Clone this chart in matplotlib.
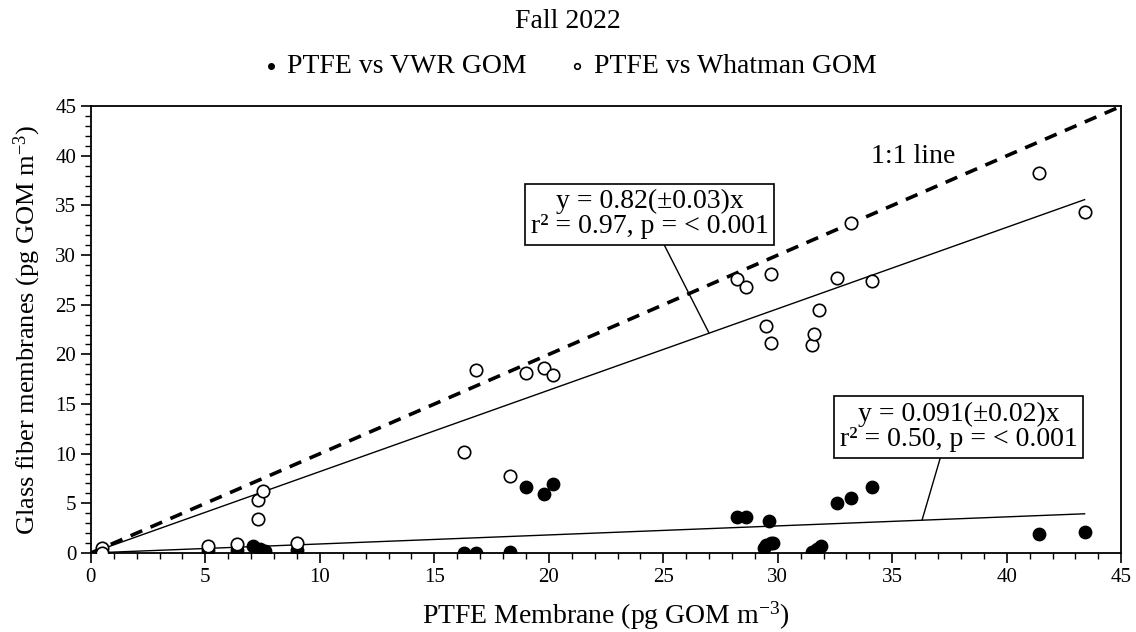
import matplotlib
matplotlib.use('Agg')
import matplotlib.pyplot as plt
from matplotlib.ticker import MultipleLocator
import numpy as np

plt.rcParams['font.family'] = ['Liberation Serif', 'DejaVu Serif']
plt.rcParams['mathtext.fontset'] = 'custom'
plt.rcParams['mathtext.rm'] = 'Liberation Serif'
plt.rcParams['mathtext.it'] = 'Liberation Serif:italic'

# PTFE vs VWR GOM (filled)
vwr_x = [0.5, 5.1, 6.4, 7.1, 7.4, 7.6, 9.0, 16.3, 16.8, 18.3, 19.0, 19.8, 20.2,
         28.2, 28.6, 29.4, 29.5, 29.6, 29.7, 29.8, 31.5, 31.7, 31.9, 32.6, 33.2,
         34.1, 41.4, 43.4]
vwr_y = [0.1, 0.3, 0.3, 0.75, 0.4, 0.2, 0.3, 0.0, 0.0, 0.15, 6.6, 5.9, 6.9,
         3.6, 3.6, 0.5, 0.8, 3.25, 1.0, 1.0, 0.15, 0.45, 0.7, 5.0, 5.5,
         6.6, 1.9, 2.1]

# PTFE vs Whatman GOM (open)
wht_x = [0.5, 0.5, 5.1, 6.4, 7.3, 7.5, 7.3, 9.0, 16.3, 16.8, 18.3, 19.0, 19.8,
         20.2, 28.2, 28.6, 29.5, 29.7, 29.7, 31.5, 31.6, 31.8, 32.6, 33.2, 34.1,
         41.4, 43.4]
wht_y = [0.5, 0.0, 0.7, 0.9, 5.3, 6.2, 3.4, 1.0, 10.2, 18.4, 7.8, 18.1, 18.6,
         17.9, 27.6, 26.8, 22.9, 21.1, 28.1, 20.9, 22.1, 24.5, 27.7, 33.2, 27.4,
         38.3, 34.3]

slope_wht = 0.82
slope_vwr = 0.091

fig = plt.figure(figsize=(11.36, 6.32), dpi=100)
ax = fig.add_axes([0.080, 0.125, 0.907, 0.707])

# 1:1 line
ax.plot([0, 45], [0, 45], color='black', linestyle=(0, (3.5, 2.5)), linewidth=2.6, zorder=2)

# fit lines
xf = np.array([0, max(wht_x)])
ax.plot(xf, slope_wht * xf, color='black', linewidth=1.0, zorder=2)
ax.plot(xf, slope_vwr * xf, color='black', linewidth=1.0, zorder=2)

ax.scatter(vwr_x, vwr_y, s=80, color='black', zorder=3, label='PTFE vs VWR GOM')
ax.scatter(wht_x, wht_y, s=80, facecolor='white', edgecolor='black', linewidth=1.2,
           zorder=3, label='PTFE vs Whatman GOM')

ax.set_xlim(0, 45)
ax.set_ylim(0, 45)
ax.xaxis.set_major_locator(MultipleLocator(5))
ax.xaxis.set_minor_locator(MultipleLocator(1))
ax.yaxis.set_major_locator(MultipleLocator(5))
ax.yaxis.set_minor_locator(MultipleLocator(1))
ax.tick_params(which='major', direction='out', length=7, width=1.2, labelsize=15)
ax.tick_params(which='minor', direction='out', length=4, width=1.0)
for sp in ax.spines.values():
    sp.set_linewidth(1.3)

ax.set_xlabel(r'PTFE Membrane (pg GOM m$^{-3}$)', fontsize=20, labelpad=9)
ax.set_ylabel(r'Glass fiber membranes (pg GOM m$^{-3}$)', fontsize=19, labelpad=9)

# annotations
ax.annotate('y = 0.82(±0.03)x\nr² = 0.97, p = < 0.001', xy=(27.0, 27.0 * slope_wht),
            xytext=(24.4, 34.1), ha='center', va='center', fontsize=20, linespacing=1.0,
            bbox=dict(boxstyle='square,pad=0.2', fc='white', ec='black', lw=1.2),
            arrowprops=dict(arrowstyle='-', color='black', lw=1.0, relpos=(0.55, 0.0),
                            shrinkA=0, shrinkB=0), zorder=4)
ax.annotate('y = 0.091(±0.02)x\nr² = 0.50, p = < 0.001', xy=(36.3, 36.3 * slope_vwr),
            xytext=(37.9, 12.7), ha='center', va='center', fontsize=20, linespacing=1.0,
            bbox=dict(boxstyle='square,pad=0.2', fc='white', ec='black', lw=1.2),
            arrowprops=dict(arrowstyle='-', color='black', lw=1.0, relpos=(0.43, 0.0),
                            shrinkA=0, shrinkB=0), zorder=4)
ax.text(35.9, 39.9, '1:1 line', ha='center', va='center', fontsize=20)

fig.text(0.5, 0.966, 'Fall 2022', ha='center', va='center', fontsize=20)
fig.legend(loc='center', bbox_to_anchor=(0.5, 0.895), ncol=2, frameon=False,
           fontsize=20, markerscale=0.45, handletextpad=0.2, columnspacing=1.4,
           handlelength=0.8)

fig.savefig('out.png', dpi=100)
